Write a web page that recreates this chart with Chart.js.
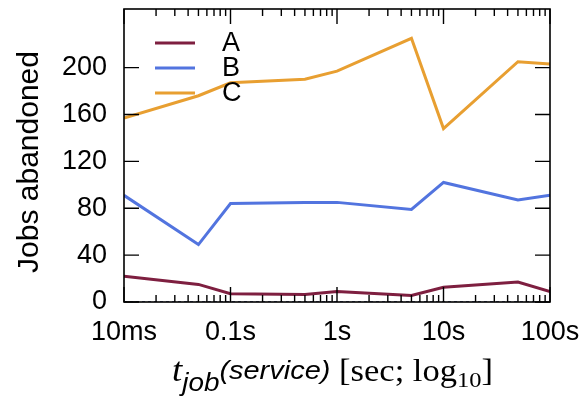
<!DOCTYPE html>
<html>
<head>
<meta charset="utf-8">
<script src="https://cdn.jsdelivr.net/npm/chart.js@4/dist/chart.umd.min.js"></script>
<style>
html,body{margin:0;padding:0;background:#fff;}
#wrap{width:587px;height:397px;position:relative;}
</style>
</head>
<body>
<div id="wrap"><canvas id="c" width="587" height="397"></canvas></div>
<script>
// ---- data ----
const xValues = [0.01, 0.05, 0.1, 0.5, 1, 5, 10, 50, 100];
const seriesNames = ['A', 'B', 'C'];
const seriesA = [22, 15, 7, 6.5, 9, 5.5, 12.5, 17, 9];
const seriesB = [91, 49, 84, 85, 85, 79, 102, 87, 91];
const seriesC = [157, 176, 187, 190, 197, 225, 148, 205, 203];
const seriesBase = [0, 0, 0, 0, 0, 0, 0, 0, 0];
const yTicks = [0, 40, 80, 120, 160, 200];
const xTicks = [0.01, 0.1, 1, 10, 100];
const xTickLabels = ['10ms', '0.1s', '1s', '10s', '100s'];

const colors = ['#7e1f40', '#5274df', '#e89f31'];
const SANS = '"Liberation Sans", Arial, Helvetica, sans-serif';
const SERIF = '"Liberation Serif", "Times New Roman", serif';

function pts(ys) { return xValues.map((x, i) => ({x: x, y: ys[i]})); }

const datasets = [
  {label: seriesNames[0], data: pts(seriesA), borderColor: colors[0]},
  {label: seriesNames[1], data: pts(seriesB), borderColor: colors[1]},
  {label: seriesNames[2], data: pts(seriesC), borderColor: colors[2]},
  {label: 'base', data: pts(seriesBase), borderColor: '#2a3a7a', borderDash: [3, 3], borderWidth: 1.5, noLegend: true}
].map(d => Object.assign({borderWidth: 3, pointRadius: 0, fill: false, tension: 0}, d));

const decor = {
  id: 'decor',
  afterDatasetsDraw(chart) {
    const ctx = chart.ctx;
    const a = chart.chartArea;
    const xs = chart.scales.x, ys = chart.scales.y;
    ctx.save();
    ctx.strokeStyle = '#000';
    ctx.lineWidth = 1.6;
    ctx.strokeRect(a.left, a.top, a.right - a.left, a.bottom - a.top);
    ctx.lineWidth = 1.4;
    yTicks.forEach(v => {
      const y = ys.getPixelForValue(v);
      ctx.beginPath();
      ctx.moveTo(a.left, y); ctx.lineTo(a.left + 15, y);
      ctx.moveTo(a.right, y); ctx.lineTo(a.right - 15, y);
      ctx.stroke();
    });
    for (let e = -2; e <= 2; e++) {
      for (let m = 1; m <= 9; m++) {
        const v = m * Math.pow(10, e);
        if (v > 100.0001) continue;
        const x = xs.getPixelForValue(v);
        const len = m === 1 ? 15 : 7;
        ctx.beginPath();
        ctx.moveTo(x, a.bottom); ctx.lineTo(x, a.bottom - len);
        ctx.moveTo(x, a.top); ctx.lineTo(x, a.top + len);
        ctx.stroke();
      }
    }
    // legend
    ctx.font = '27px ' + SANS;
    ctx.textBaseline = 'middle';
    ctx.textAlign = 'left';
    chart.data.datasets.forEach((d, i) => {
      if (d.noLegend) return;
      const y = 43 + i * 25;
      ctx.strokeStyle = d.borderColor;
      ctx.lineWidth = 3;
      ctx.beginPath();
      ctx.moveTo(155, y); ctx.lineTo(195, y);
      ctx.stroke();
      ctx.fillStyle = '#000';
      ctx.fillText(d.label, 222, y + 1);
    });
    ctx.restore();
  },
  afterDraw(chart) {
    const ctx = chart.ctx;
    ctx.save();
    ctx.fillStyle = '#000';
    ctx.save();
    ctx.translate(30, 162);
    ctx.rotate(-Math.PI / 2);
    ctx.font = '30px ' + SANS;
    ctx.textAlign = 'center';
    ctx.textBaseline = 'middle';
    ctx.fillText('Jobs abandoned', 0, 0);
    ctx.restore();
    const parts = [
      {t: 't', f: 'italic 33px ' + SERIF, dy: 0},
      {t: 'job', f: 'italic 25px ' + SANS, dy: 10},
      {t: '(service)', f: 'italic 26px ' + SANS, dy: -2},
      {t: ' [sec; ', f: '31px ' + SERIF, dy: 0},
      {t: 'log', f: '31px ' + SERIF, dy: 0},
      {t: '10', f: '22px ' + SERIF, dy: 6},
      {t: ']', f: '31px ' + SERIF, dy: 0}
    ];
    ctx.textBaseline = 'alphabetic';
    ctx.textAlign = 'left';
    let total = 0;
    parts.forEach(p => { ctx.font = p.f; p.w = ctx.measureText(p.t).width; total += p.w; });
    const target = 321;
    const k = target / total;
    ctx.translate(172, 381);
    ctx.scale(k, 1);
    let x = 0;
    parts.forEach(p => { ctx.font = p.f; ctx.fillText(p.t, x, p.dy); x += p.w; });
    ctx.restore();
  }
};

new Chart(document.getElementById('c'), {
  type: 'line',
  data: {datasets: datasets},
  options: {
    responsive: false,
    animation: false,
    layout: {padding: {top: 9, right: 37, left: 0, bottom: 0}},
    plugins: {legend: {display: false}, tooltip: {enabled: false}},
    scales: {
      x: {
        type: 'logarithmic',
        min: 0.01, max: 100,
        afterBuildTicks(s) { s.ticks = xTicks.map(v => ({value: v})); },
        afterFit(s) { s.height = 95; s.paddingLeft = 0; s.paddingRight = 0; },
        ticks: {
          autoSkip: false, maxRotation: 0, padding: 14,
          color: '#000', font: {family: SANS, size: 27},
          callback(v, i) { return xTickLabels[i]; }
        },
        grid: {display: false, drawTicks: false},
        border: {display: false}
      },
      y: {
        min: 0, max: 250,
        afterBuildTicks(s) { s.ticks = yTicks.map(v => ({value: v})); },
        afterFit(s) { s.width = 124; s.paddingTop = 0; s.paddingBottom = 0; },
        ticks: {
          padding: 17, color: '#000', font: {family: SANS, size: 27},
          callback(v) { return String(v); }
        },
        grid: {display: false, drawTicks: false},
        border: {display: false}
      }
    }
  },
  plugins: [decor]
});
</script>
</body>
</html>
